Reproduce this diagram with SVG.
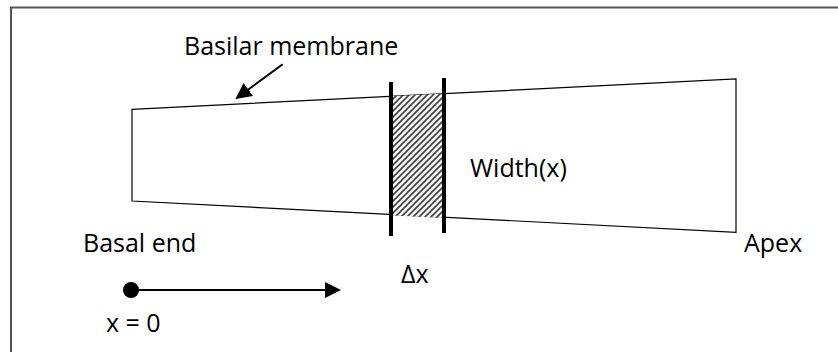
<svg xmlns="http://www.w3.org/2000/svg" width="838" height="352" viewBox="0 0 838 352">
<style>
  .lbl { font-family: "Open Sans", "Liberation Sans", sans-serif; font-size: 25px; fill: #000; }
  .thin { fill: none; stroke: #000; stroke-width: 1.2; }
  .bar { stroke: #000; stroke-width: 4; }
  .conn { stroke: #000; stroke-width: 2; fill: none; }
</style>
<defs>
  <pattern id="hatch" patternUnits="userSpaceOnUse" width="6" height="6">
    <rect width="6" height="6" fill="#fff"/>
    <path d="M-1,1 l2,-2 M0,6 l6,-6 M5,7 l2,-2" stroke="#444" stroke-width="1.7"/>
  </pattern>
  <marker id="ah" markerWidth="8" markerHeight="8" refX="7" refY="4" orient="auto" markerUnits="strokeWidth">
    <path d="M0,0 L8,4 L0,8 Z" fill="#000"/>
  </marker>
</defs>
<rect width="838" height="352" fill="#fff"/>
<path d="M11,352 V7.5 H838" fill="none" stroke="#555" stroke-width="2"/>

<g id="membrane">
  <polygon class="thin" points="132,109.3 736,79 736,232.3 132,201"/>
</g>
<g id="section">
  <polygon points="391,96.2 444,93.5 444,218 391,215.3" fill="url(#hatch)"/>
  <line class="bar" x1="391" y1="82" x2="391" y2="236"/>
  <line class="bar" x1="444" y1="78" x2="444" y2="233"/>
</g>
<g id="origin">
  <circle cx="131" cy="290" r="8" fill="#000"/>
</g>

<g id="connectors">
  <line class="conn" x1="282.7" y1="64.3" x2="237" y2="97.8" marker-end="url(#ah)"/>
  <line class="conn" x1="131" y1="290" x2="339" y2="290" marker-end="url(#ah)"/>
</g>

<g id="labels">
  <text class="lbl" x="184" y="55">Basilar membrane</text>
  <text class="lbl" x="470" y="177">Width(x)</text>
  <text class="lbl" x="401" y="283">Δx</text>
  <text class="lbl" x="83" y="252">Basal end</text>
  <text class="lbl" x="744" y="252">Apex</text>
  <text class="lbl" x="106" y="332">x = 0</text>
</g>
</svg>
